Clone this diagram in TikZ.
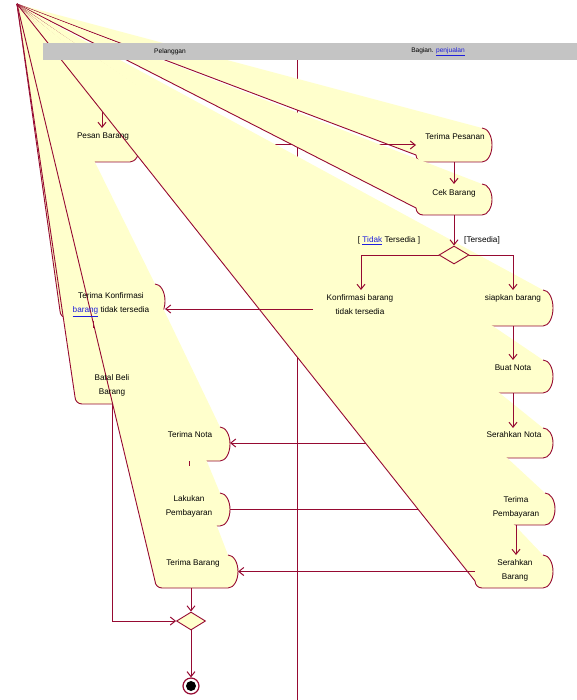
\documentclass[tikz,border=0pt]{standalone}
\usepackage{fontspec}
\setmainfont{Liberation Sans}
\usetikzlibrary{arrows.meta,shapes.geometric}
\definecolor{actfill}{RGB}{255,255,204}
\definecolor{rose}{RGB}{150,10,50}
\definecolor{hdrgray}{RGB}{196,196,196}
\definecolor{spellblue}{RGB}{30,30,220}
\newcommand\spellw[1]{\textcolor{spellblue}{\underline{#1}}}
\tikzset{
 actline/.style={draw=rose, line width=0.9pt},
 flow/.style={draw=rose, line width=1pt, -{Straight Barb[length=5pt,width=8pt]}},
 flowplain/.style={draw=rose, line width=1pt},
 laneline/.style={draw=rose, line width=1pt},
 anchorbox/.style={inner sep=0pt, outer sep=0pt, draw=none},
 lbl/.style={font=\fontsize{8.2}{14}\selectfont, align=center, inner sep=0pt},
 hdrlbl/.style={font=\fontsize{6.6}{8}\selectfont, inner sep=0pt},
 decision/.style={diamond, draw=rose, fill=actfill, line width=0.9pt, inner sep=0pt, minimum width=30pt, minimum height=18pt, aspect=1.67},
}
\newcommand\actshape[4]{%
 \fill[actfill] (A) -- ({#3-10},#2) .. controls ({#3-4.48},#2) and (#3,{#2+0.224*(#4-#2)}) .. (#3,{(#2+#4)/2}) .. controls (#3,{#4-0.224*(#4-#2)}) and ({#3-4.48},#4) .. ({#3-10},#4) -- ({#1+7},#4) .. controls ({#1+3.13},#4) and (#1,{#4-3.13}) .. (#1,{#4-7}) -- cycle;
 \draw[actline] ({#3-10},#2) .. controls ({#3-4.48},#2) and (#3,{#2+0.224*(#4-#2)}) .. (#3,{(#2+#4)/2}) .. controls (#3,{#4-0.224*(#4-#2)}) and ({#3-4.48},#4) .. ({#3-10},#4) -- ({#1+7},#4) .. controls ({#1+3.13},#4) and (#1,{#4-3.13}) .. (#1,{#4-7}) -- (A);
}
\newcommand\defact[5]{%
 \expandafter\gdef\csname act@#1\endcsname{{#2}{#3}{#4}{#5}}%
 \node[anchorbox, minimum width={(#4-#2)*1pt}, minimum height={(#5-#3)*1pt}] (#1) at ({(#2+#4)/2},{(#3+#5)/2}) {};}
\newcommand\drawact[1]{\expandafter\expandafter\expandafter\actshape\csname act@#1\endcsname}
\begin{document}
\begin{tikzpicture}[x=1pt,y=-1pt]
\useasboundingbox (0,0) rectangle (577,700);
\coordinate (A) at (17,4);
% activity boxes (real extents)
\defact{a1}{70}{128}{140}{162}
\defact{b1}{416}{128}{492}{162}
\defact{b2}{416}{184}{492}{215}
\defact{b3}{313}{290}{409}{328}
\defact{a2}{60}{284}{165}{318}
\defact{a3}{75}{368}{149}{404}
\defact{b4}{473}{290}{553}{326}
\defact{b5}{473}{360}{553}{393}
\defact{b6}{473}{428}{553}{458}
\defact{a4}{150}{427}{230}{461}
\defact{a5}{150}{493}{230}{526}
\defact{b7}{477}{493}{555}{525}
\defact{b8}{475}{555}{553}{588}
\defact{a6}{155}{555}{238}{588}
% swimlane separator
\coordinate (laneT) at (297,60);
\coordinate (laneB) at (297,700);
\draw[laneline] (laneT) -- (laneB);
% shapes and hidden flows in drawing order
\drawact{a1}
\coordinate (s0) at (102,90);
\draw[flow] (s0) -- (s0 |- a1.north);
\drawact{b1}
\draw[flow] (a1.east) -- (b1.west);
\drawact{b2}
\drawact{b3}
\drawact{a2}
\drawact{a3}
\drawact{b4}
\drawact{b5}
\drawact{b6}
\drawact{a4}
\drawact{a5}
\draw[flow] (b6.west) -- (b6.west -| a4.east);
\draw[flow] (a5.east) -- (a5.east -| b7.west);
\drawact{b7}
\drawact{b8}
\drawact{a6}
% decisions and final state
\node[decision] (d1) at (454,255) {};
\node[decision, minimum width=29pt] (d2) at (191,621) {};
\node[circle, draw=rose, line width=1.2pt, fill=white, minimum size=16pt, inner sep=0pt] (fin) at (191,686) {};
\node[circle, fill=black, minimum size=10pt, inner sep=0pt] (finin) at (fin.center) {};
% visible flows
\draw[flow] (b1.south) -- (b2.north);
\draw[flow] (b2.south) -- (d1.north);
\draw[flow] (d1.west) -| (b3.north);
\draw[flow] (d1.east) -| (b4.north);
\draw[flow] (b3.west) -- (b3.west -| a2.east);
\draw[flow] (b4.south) -- (b5.north);
\draw[flow] (b5.south) -- (b6.north);
\draw[flow] (b7.south) -- (b7.south |- b8.north);
\draw[flow] (b8.west) -- (b8.west -| a6.east);
\draw[flow] (d2.north |- a6.south) -- (d2.north);
\draw[flow] (a3.south) |- (d2.west);
\draw[flow] (d2.south) -- (fin.north);
\coordinate (t2) at (93,321);
\coordinate (t3) at (93,328);
\draw[flowplain] (t2) -- (t3);
\coordinate (t4) at (189,461);
\coordinate (t5) at (189,466);
\draw[flowplain] (t4) -- (t5);
% texts
\node[lbl] (a1t) at (103,137) {Pesan Barang};
\node[lbl] (b1t) at (455,137) {Terima Pesanan};
\node[lbl] (b2t) at (454,193) {Cek Barang};
\node[lbl] (g1) at (389,241) {[ \spellw{Tidak} Tersedia ]};
\node[lbl] (g2) at (482,240) {[Tersedia]};
\node[lbl] (b3t) at (360,304.5) {Konfirmasi barang\\tidak tersedia};
\node[lbl] (b4t) at (513,298) {siapkan barang};
\node[lbl] (a2t) at (111,304.5) {Terima Konfirmasi\\\spellw{barang} tidak tersedia};
\node[lbl] (a3t) at (112,385.5) {Batal Beli\\Barang};
\node[lbl] (b5t) at (513,368) {Buat Nota};
\node[lbl] (b6t) at (514,435) {Serahkan Nota};
\node[lbl] (a4t) at (190,435) {Terima Nota};
\node[lbl] (a5t) at (189,506.5) {Lakukan\\Pembayaran};
\node[lbl] (b7t) at (516,507.5) {Terima\\Pembayaran};
\node[lbl] (b8t) at (515,570) {Serahkan\\Barang};
\node[lbl] (a6t) at (193,563) {Terima Barang};
% swimlane header
\node[fill=hdrgray, draw=none, minimum width=534pt, minimum height=17pt, inner sep=0pt, anchor=north west] (hdr) at (43,43) {};
\node[hdrlbl] (h1) at (170,51.5) {Pelanggan};
\node[hdrlbl] (h2) at (438,51.5) {Bagian. \spellw{penjualan}};
\end{tikzpicture}
\end{document}
